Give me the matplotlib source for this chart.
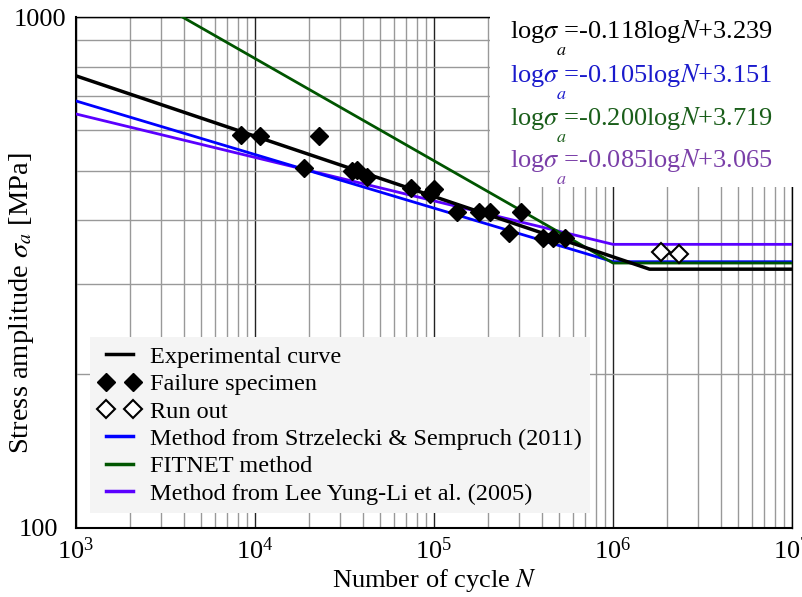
import matplotlib
matplotlib.use("Agg")
import matplotlib.pyplot as plt
import matplotlib.transforms as mtransforms
from matplotlib.patches import Rectangle
from matplotlib.lines import Line2D

plt.rcParams['font.family'] = ['Liberation Serif', 'DejaVu Serif']
plt.rcParams['mathtext.fontset'] = 'stix'

# failure specimens (N, stress amplitude MPa)
fail_N = [8.4e3, 1.07e4, 1.88e4, 2.28e4, 3.5e4, 3.7e4, 4.2e4, 7.4e4, 9.5e4, 1.0e5,
          1.34e5, 1.78e5, 2.06e5, 2.62e5, 3.06e5, 4.06e5, 4.62e5, 5.39e5]
fail_S = [587, 585, 507, 585, 500, 502, 486, 463, 451, 461,
          415, 415, 415, 378, 415, 370, 370, 370]

# run outs
run_N = [1.85e6, 2.34e6]
run_S = [347, 344]

# curves (start, knee, end)
exp_N = [1e3, 1.6e6, 1e7]
exp_S = [767, 321, 321]
strz_N = [1e3, 1e6, 1e7]
strz_S = [685, 332, 332]
fitnet_N = [1e3, 1e6, 1e7]
fitnet_S = [1315, 330, 330]
lee_N = [1e3, 1e6, 1e7]
lee_S = [646, 359, 359]

equations = ['=-0.118log$N$+3.239', '=-0.105log$N$+3.151',
             '=-0.200log$N$+3.719', '=-0.085log$N$+3.065']
eq_colors = ['#000000', '#1a1acc', '#1a5e1a', '#7a3fa8']

c_blue = '#0000ff'
c_green = '#005500'
c_lee = '#5a00ff'

W, H = 802, 597
fig = plt.figure(figsize=(W / 100, H / 100), dpi=100)
ax = fig.add_axes([76 / W, 1 - 528 / H, 716 / W, 511 / H])

ax.plot(lee_N, lee_S, color=c_lee, lw=2, zorder=3)
ax.plot(strz_N, strz_S, color=c_blue, lw=2, zorder=3)
ax.plot(fitnet_N, fitnet_S, color=c_green, lw=2, zorder=3)
ax.plot(exp_N, exp_S, color='black', lw=2.5, zorder=4)
ax.plot(fail_N, fail_S, 'D', color='black', ms=9, zorder=5)
ax.plot(run_N, run_S, 'D', mfc='white', mec='black', mew=1.5, ms=9, zorder=5)

ax.set_xscale('log')
ax.set_yscale('log')
ax.set_xlim(1e3, 1e7)
ax.set_ylim(100, 1000)
ax.set_yticks([100, 1000])
ax.set_yticklabels(['100', '1000'])
ax.yaxis.set_minor_formatter(matplotlib.ticker.NullFormatter())

ax.grid(True, which='major', color='#222222', lw=1)
ax.grid(True, which='minor', color='#999999', lw=1)
ax.set_axisbelow(True)
ax.tick_params(which='both', length=0, labelsize=19, pad=7)
for s in ax.spines.values():
    s.set_linewidth(1)
ax.spines['left'].set_linewidth(1.5)
ax.spines['bottom'].set_linewidth(1.5)

ax.set_xlabel('Number of cycle $N$', fontsize=19, labelpad=2)
ax.set_ylabel(r'Stress amplitude $\sigma_a$ [MPa]', fontsize=20.5)
ax.yaxis.set_label_coords(-0.056, 0.44)

handles = [
    Line2D([], [], color='black', lw=2.5),
    Line2D([], [], ls='none', marker='D', color='black', ms=9),
    Line2D([], [], ls='none', marker='D', mfc='white', mec='black', mew=1.5, ms=9),
    Line2D([], [], color=c_blue, lw=2.5),
    Line2D([], [], color=c_green, lw=2.5),
    Line2D([], [], color=c_lee, lw=2.5),
]
labels = ['Experimental curve', 'Failure specimen', 'Run out',
          'Method from Strzelecki & Sempruch (2011)', 'FITNET method',
          'Method from Lee Yung-Li et al. (2005)']
leg = ax.legend(handles, labels, loc='lower left', bbox_to_anchor=(0.0196, 0.029),
                borderaxespad=0, fontsize=17.5, numpoints=2, handlelength=1.7,
                handletextpad=0.4, labelspacing=0.22, borderpad=0.35,
                fancybox=False, framealpha=1, facecolor='#f4f4f4', edgecolor='none')
leg.set_zorder(6)

fig.canvas.draw()
lab0 = ax.get_xticklabels()[0]
lab0.set_transform(lab0.get_transform() +
                   mtransforms.ScaledTranslation(12 / 100, -8 / 100, fig.dpi_scale_trans))
laby = ax.get_yticklabels()[0]
laby.set_transform(laby.get_transform() +
                   mtransforms.ScaledTranslation(-8 / 100, 0, fig.dpi_scale_trans))

# white panel with the equations
rect = Rectangle((490 / W, 1 - 187 / H), 312 / W, 187 / H, transform=fig.transFigure,
                 facecolor='white', edgecolor='none', zorder=10)
fig.patches.append(rect)
baselines = [38, 82, 125, 167]
for eq, col, yb in zip(equations, eq_colors, baselines):
    fig.text(510 / W, 1 - yb / H, r'log$\sigma$ ' + eq, color=col, fontsize=19,
             va='baseline', ha='left', zorder=11)
    t = fig.text(556 / W, 1 - (yb + 17) / H, '$a$', color=col, fontsize=13,
                 va='baseline', ha='left', zorder=11)
    t.set_clip_path(rect)

fig.savefig('out.png', dpi=100)
